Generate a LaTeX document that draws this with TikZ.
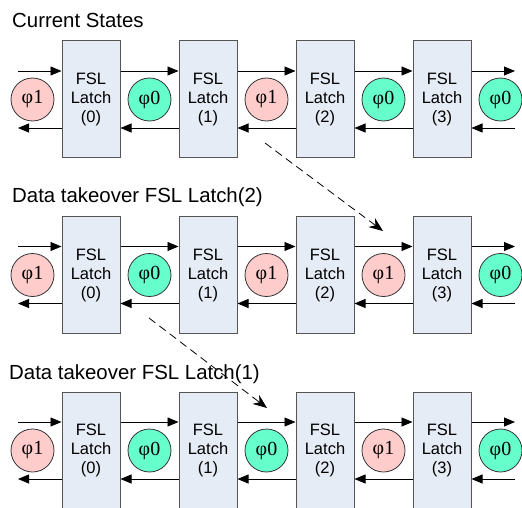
\documentclass[tikz,border=0pt]{standalone}
\usepackage{fontspec}
\setmainfont{Liberation Sans}
\newfontfamily\phifont{Liberation Serif}
\usetikzlibrary{arrows.meta,calc}
\definecolor{latchfill}{RGB}{230,236,246}
\definecolor{latchdraw}{RGB}{85,85,85}
\definecolor{phaseone}{RGB}{255,204,204}
\definecolor{phasezero}{RGB}{102,255,204}
\tikzset{
  latch/.style={draw=latchdraw, fill=latchfill, line width=1pt, minimum width=58pt,
                minimum height=117pt, inner sep=0pt, align=center,
                font=\fontsize{16.5}{19}\selectfont},
  phase/.style={circle, draw=black!80, line width=0.8pt, minimum size=43pt,
                inner sep=0pt, font=\phifont\fontsize{20}{20}\selectfont},
  phase1/.style={phase, fill=phaseone},
  phase0/.style={phase, fill=phasezero},
  fwd/.style={-{Triangle[length=11pt,width=9pt]}, line width=0.8pt},
  takeover/.style={-{Stealth[length=14pt,width=11pt]}, dash pattern=on 8pt off 5pt,
                   line width=0.8pt},
  title/.style={anchor=base west, inner sep=0pt, font=\fontsize{20.4}{24}\selectfont}
}

\begin{document}
\begin{tikzpicture}[x=1pt, y=-1pt]
  \useasboundingbox (0,0) rectangle (522,508);
  % titles
  \node[title] (t1) at (12,27.5) {Current States};
  \node[title] (t2) at (12,202.5) {Data takeover FSL Latch(2)};
  \node[title] (t3) at (9,379.5) {Data takeover FSL Latch(1)};
  % three rows of latches with their phases
  \foreach \r/\yc/\pa/\pb/\pc/\pd/\pe in {1/99.5/1/0/1/0/0, 2/275/1/0/1/1/0, 3/450.5/1/0/0/1/0} {
    \foreach \i in {0,...,3}
      \node[latch] (L\r-\i) at (91+117*\i,\yc) {FSL\\Latch\\(\i)};
    \foreach \i/\s in {0/\pa,1/\pb,2/\pc,3/\pd,4/\pe}
      \node[phase\s] (P\r-\i) at (32.5+117*\i,\yc) {φ\s};
    \coordinate (in\r) at (18,\yc-28.5);
    \coordinate (back\r) at (18,\yc+28.5);
    \coordinate (out\r) at (515,\yc-28.5);
    \coordinate (ret\r) at (515,\yc+28.5);
    \draw[fwd] (in\r) -- ([yshift=28.5pt]L\r-0.west);
    \draw[fwd] ([yshift=-28.5pt]L\r-0.west) -- (back\r);
    \foreach \i [evaluate=\i as \j using int(\i+1)] in {0,1,2} {
      \draw[fwd] ([yshift=28.5pt]L\r-\i.east) -- ([yshift=28.5pt]L\r-\j.west);
      \draw[fwd] ([yshift=-28.5pt]L\r-\j.west) -- ([yshift=-28.5pt]L\r-\i.east);
    }
    \draw[fwd] ([yshift=28.5pt]L\r-3.east) -- (out\r);
    \draw[fwd] (ret\r) -- ([yshift=-28.5pt]L\r-3.east);
  }
  % takeover steps
  \coordinate (s1) at (265,143);
  \coordinate (e1) at (383,231);
  \coordinate (s2) at (149,318);
  \coordinate (e2) at (267,408);
  \draw[takeover] (s1) -- (e1);
  \draw[takeover] (s2) -- (e2);
\end{tikzpicture}
\end{document}
